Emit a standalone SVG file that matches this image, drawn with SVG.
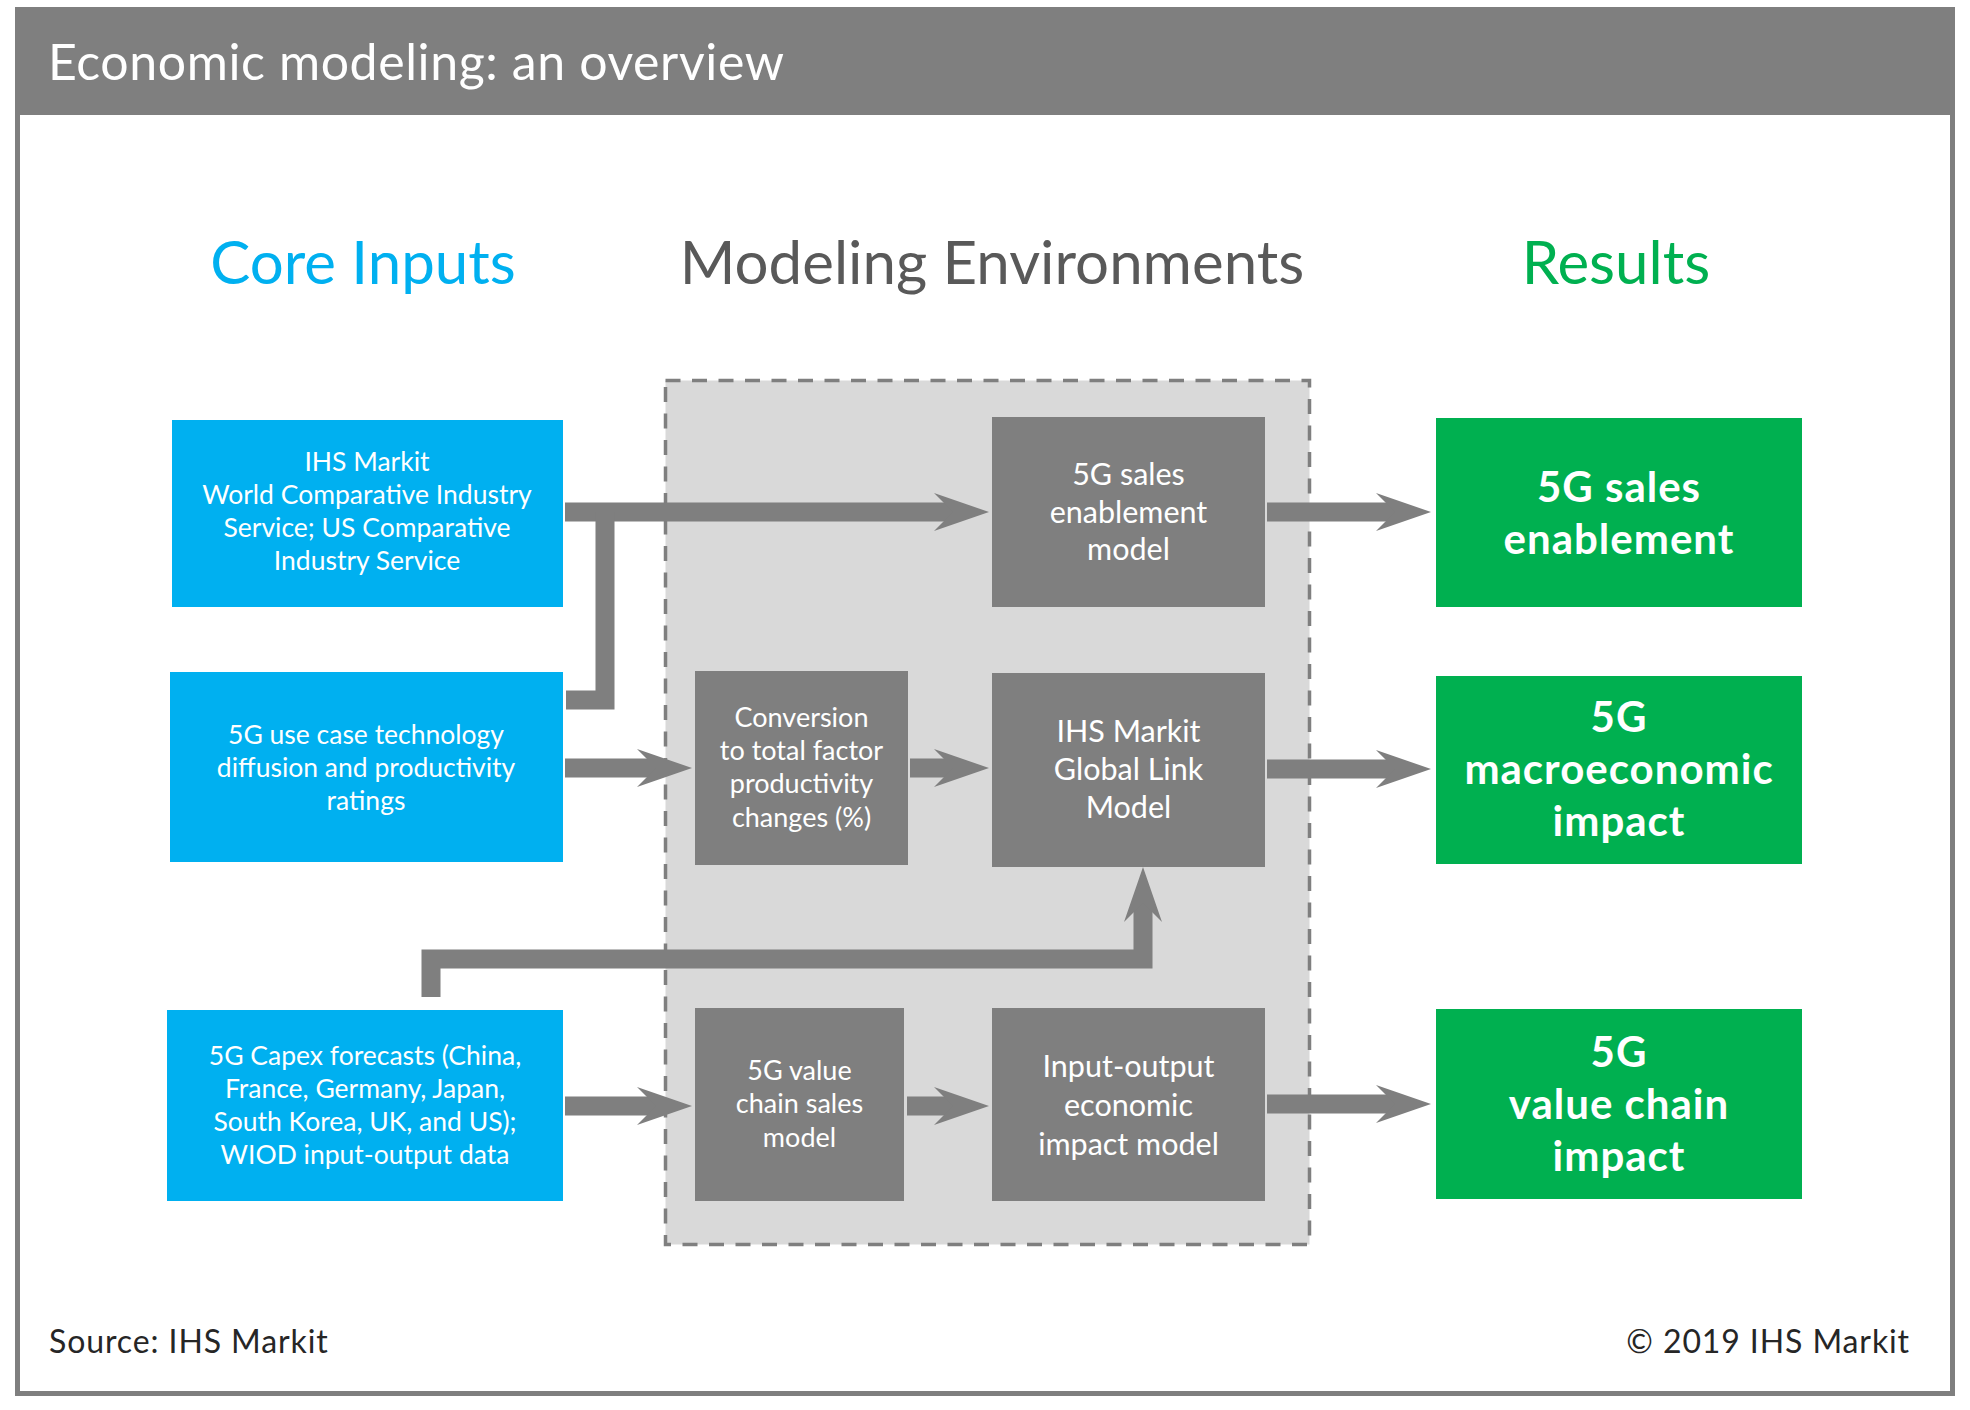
<svg xmlns="http://www.w3.org/2000/svg" width="1970" height="1410" viewBox="0 0 1970 1410">
<defs>
<style>
.hdr{font-family:Lato,"Open Sans",sans-serif;font-size:50px;letter-spacing:0.6px;fill:#ffffff}
.h2{font-family:Lato,"Open Sans",sans-serif;font-size:60px;text-anchor:middle}
.blue{fill:#00b0f0}
.green{fill:#00b050}
.gray{fill:#7f7f7f}
.bt{font-family:Lato,"Open Sans",sans-serif;font-size:26.5px;fill:#ffffff;text-anchor:middle}
.gt{font-family:Lato,"Open Sans",sans-serif;font-size:27px;fill:#ffffff;text-anchor:middle}
.gtl{font-family:Lato,"Open Sans",sans-serif;font-size:30.5px;fill:#ffffff;text-anchor:middle}
.rt{font-family:Lato,"Open Sans",sans-serif;font-size:42px;letter-spacing:1px;font-weight:bold;fill:#ffffff;text-anchor:middle}
.ft{font-family:Lato,"Open Sans",sans-serif;font-size:32px;letter-spacing:0.9px;fill:#262626}
.conn{fill:none;stroke:#7f7f7f;stroke-width:19;stroke-linejoin:miter}
</style>
<marker id="ah" markerUnits="userSpaceOnUse" markerWidth="60" markerHeight="42" viewBox="-56 -21 60 42" refX="-30" refY="0" orient="auto" overflow="visible">
<path d="M0,0 L-55,-19 L-36,0 L-55,19 Z" fill="#7f7f7f"/>
</marker>
</defs>
<rect x="0" y="0" width="1970" height="1410" fill="#ffffff"/>
<g id="frame">
<rect x="17.5" y="9.5" width="1935" height="1384" fill="#ffffff" stroke="#7f7f7f" stroke-width="5"/>
<rect x="15" y="7" width="1940" height="108" fill="#7f7f7f"/>
<text class="hdr" x="48" y="80">Economic modeling: an overview</text>
</g>
<g id="headings">
<text class="h2" x="363" y="284" fill="#00b0f0">Core Inputs</text>
<text class="h2" x="992" y="284" fill="#595959">Modeling Environments</text>
<text class="h2" x="1616" y="284" fill="#00b050">Results</text>
</g>
<g id="container">
<rect x="665.5" y="380.5" width="644" height="864" fill="#d9d9d9" stroke="#7f7f7f" stroke-width="3.5" stroke-dasharray="15 11.5"/>
</g>
<g id="input1">
<rect class="blue" x="172" y="420" width="391" height="187"/>
<text class="bt"><tspan x="367" y="471">IHS Markit</tspan><tspan x="367" y="504">World Comparative Industry</tspan><tspan x="367" y="537">Service; US Comparative</tspan><tspan x="367" y="570">Industry Service</tspan></text>
</g>
<g id="input2">
<rect class="blue" x="170" y="672" width="393" height="190"/>
<text class="bt"><tspan x="366" y="744">5G use case technology</tspan><tspan x="366" y="777">diffusion and productivity</tspan><tspan x="366" y="810">ratings</tspan></text>
</g>
<g id="input3">
<rect class="blue" x="167" y="1010" width="396" height="191"/>
<text class="bt"><tspan x="365" y="1065">5G Capex forecasts (China,</tspan><tspan x="365" y="1098">France, Germany, Japan,</tspan><tspan x="365" y="1131">South Korea, UK, and US);</tspan><tspan x="365" y="1164">WIOD input-output data</tspan></text>
</g>
<g id="sales-model">
<rect class="gray" x="992" y="417" width="273" height="190"/>
<text class="gtl"><tspan x="1128.5" y="485">5G sales</tspan><tspan x="1128.5" y="522.5">enablement</tspan><tspan x="1128.5" y="560">model</tspan></text>
</g>
<g id="conversion">
<rect class="gray" x="695" y="671" width="213" height="194"/>
<text class="gt"><tspan x="801.5" y="727">Conversion</tspan><tspan x="801.5" y="760">to total factor</tspan><tspan x="801.5" y="793">productivity</tspan><tspan x="801.5" y="827">changes (%)</tspan></text>
</g>
<g id="global-link">
<rect class="gray" x="992" y="673" width="273" height="194"/>
<text class="gtl"><tspan x="1128.5" y="742">IHS Markit</tspan><tspan x="1128.5" y="780">Global Link</tspan><tspan x="1128.5" y="818">Model</tspan></text>
</g>
<g id="value-chain">
<rect class="gray" x="695" y="1008" width="209" height="193"/>
<text class="gt"><tspan x="799.5" y="1080">5G value</tspan><tspan x="799.5" y="1113">chain sales</tspan><tspan x="799.5" y="1146.5">model</tspan></text>
</g>
<g id="input-output">
<rect class="gray" x="992" y="1008" width="273" height="193"/>
<text class="gtl"><tspan x="1128.5" y="1077">Input-output</tspan><tspan x="1128.5" y="1116">economic</tspan><tspan x="1128.5" y="1155">impact model</tspan></text>
</g>
<g id="result1">
<rect class="green" x="1436" y="418" width="366" height="189"/>
<text class="rt"><tspan x="1619" y="502">5G sales</tspan><tspan x="1619" y="554">enablement</tspan></text>
</g>
<g id="result2">
<rect class="green" x="1436" y="676" width="366" height="188"/>
<text class="rt"><tspan x="1619" y="732">5G</tspan><tspan x="1619" y="784">macroeconomic</tspan><tspan x="1619" y="836">impact</tspan></text>
</g>
<g id="result3">
<rect class="green" x="1436" y="1009" width="366" height="190"/>
<text class="rt"><tspan x="1619" y="1067">5G</tspan><tspan x="1619" y="1119">value chain</tspan><tspan x="1619" y="1171">impact</tspan></text>
</g>
<g id="connectors">
<path class="conn" d="M565,512 H959" marker-end="url(#ah)"/>
<path class="conn" d="M566,700 H605 V512"/>
<path class="conn" d="M565,768 H662" marker-end="url(#ah)"/>
<path class="conn" d="M910,768 H959" marker-end="url(#ah)"/>
<path class="conn" d="M1267,512 H1401" marker-end="url(#ah)"/>
<path class="conn" d="M1267,769 H1401" marker-end="url(#ah)"/>
<path class="conn" d="M431,997 V959 H1143 V897" marker-end="url(#ah)"/>
<path class="conn" d="M565,1106 H662" marker-end="url(#ah)"/>
<path class="conn" d="M907,1106 H959" marker-end="url(#ah)"/>
<path class="conn" d="M1267,1104 H1401" marker-end="url(#ah)"/>
</g>
<g id="footer">
<text class="ft" x="49" y="1353">Source: IHS Markit</text>
<text class="ft" x="1910" y="1353" text-anchor="end">© 2019 IHS Markit</text>
</g>
</svg>
